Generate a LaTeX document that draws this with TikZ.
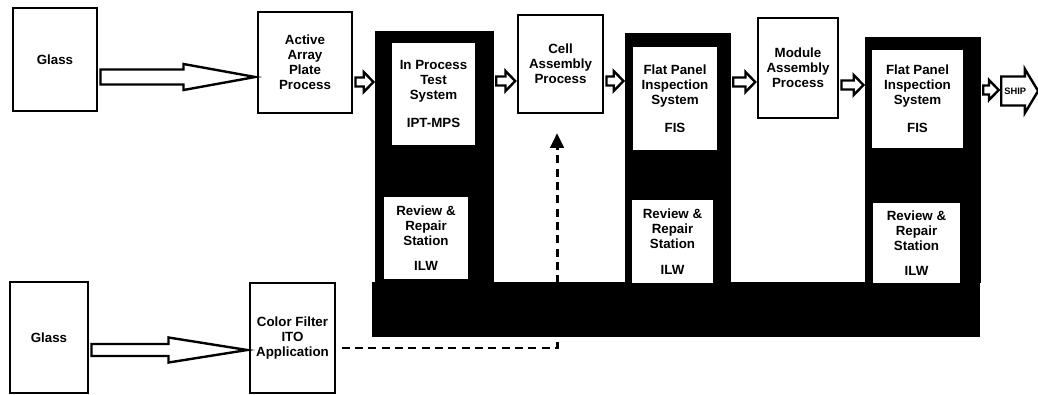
\documentclass[tikz,border=0pt]{standalone}
\usepackage{fontspec}
\setmainfont{Liberation Sans}
\usetikzlibrary{calc,arrows.meta,shapes.arrows}
\newcommand{\hollowarrow}[6]{%
                \draw[hollow] let \p1=(#1.east), \p2=(#2.west), \p3=(0,#3) in
                (\x1+1.5pt,\y3+#4*0.75pt) -- (\x2-#6*0.75pt,\y3+#4*0.75pt) -- (\x2-#6*0.75pt,\y3+#5*0.75pt) -- (\x2-1pt,\y3)
                -- (\x2-#6*0.75pt,\y3-#5*0.75pt) -- (\x2-#6*0.75pt,\y3-#4*0.75pt) -- (\x1+1.5pt,\y3-#4*0.75pt) -- cycle;}
\begin{document}
\begin{tikzpicture}[x=0.75pt, y=-0.75pt,
                wh/.style 2 args={minimum width=#1*0.75pt, minimum height=#2*0.75pt},
                txt/.style={font=\fontsize{10}{11.25}\selectfont\bfseries, align=center, inner sep=0pt},
                hollow/.style={draw=black, fill=white, line width=1.8pt, line join=miter},
                dashline/.style={line width=2.2pt, dash pattern=on 6pt off 4pt, shorten <=4pt, shorten >=14pt, -{Triangle[length=11pt,width=10pt]}}]
                \useasboundingbox (0,0) rectangle (1038,394);
                \begin{scope}[every node/.style={fill=black, inner sep=0pt}]
                \node[wh={119}{252}] (col1) at (434.5,157) {};
                \node[wh={106}{250}] (col2) at (678,158) {};
                \node[wh={116}{246}] (col3) at (923,160) {};
                \node[wh={608}{55}] (bar) at (676,309.5) {};
                \end{scope}
                \begin{scope}[every node/.style={txt, fill=white}]
                \node[wh={83}{102}] (ipt) at (433.5,94) {In Process\\Test\\System\\[10pt]IPT-MPS};
                \node[wh={84}{82}] (rrs1) at (426,238) {Review \&\\Repair\\Station\\[8pt]ILW};
                \node[wh={84}{103}] (fis2) at (675,98.5) {Flat Panel\\Inspection\\System\\[10pt]FIS};
                \node[wh={81}{83}] (rrs2) at (672.5,241.5) {Review \&\\Repair\\Station\\[8pt]ILW};
                \node[wh={91}{98}] (fis3) at (917.5,99) {Flat Panel\\Inspection\\System\\[10pt]FIS};
                \node[wh={87}{80}] (rrs3) at (916.5,243) {Review \&\\Repair\\Station\\[8pt]ILW};
                \end{scope}
                \begin{scope}[every node/.style={txt, draw, line width=2.2pt, fill=white}]
                \node[wh={84}{103}] (glass1) at (55,59.5) {Glass};
                \node[wh={94}{101}] (aapp) at (305,62.5) {Active\\Array\\Plate\\Process};
                \node[wh={85}{98}] (cell) at (560.5,64) {Cell\\Assembly\\Process};
                \node[wh={80}{100}] (module) at (798,68) {Module\\Assembly\\Process};
                \node[wh={78}{111}] (glass2) at (49,337.5) {Glass};
                \node[wh={85}{110}] (cfito) at (292.5,338) {Color Filter\\ITO\\Application};
                \end{scope}
                \node[single arrow, draw, line width=1.8pt, fill=white, font=\fontsize{7}{8}\selectfont\bfseries,
                      inner xsep=1.5pt, inner ysep=7.5pt, single arrow head extend=5.6pt, single arrow tip angle=118,
                      anchor=tail] (ship) at (1000,91) {SHIP};
                \hollowarrow{glass1}{aapp}{77}{7.5}{13}{73}
                \hollowarrow{glass2}{cfito}{350}{6}{12.5}{80}
                \hollowarrow{aapp}{col1}{82}{4.5}{10}{11}
                \hollowarrow{col1}{cell}{81}{4.5}{10}{11}
                \hollowarrow{cell}{col2}{81}{4.5}{10}{11}
                \hollowarrow{col2}{module}{82}{4.5}{10}{11}
                \hollowarrow{module}{col3}{85}{4.5}{10}{11}
                \hollowarrow{col3}{ship}{90}{4.5}{10}{11}
                \draw[dashline] ([yshift=-7.5pt]cfito.east) -| ([xshift=-2.6pt]cell.south);
\end{tikzpicture}
\end{document}
